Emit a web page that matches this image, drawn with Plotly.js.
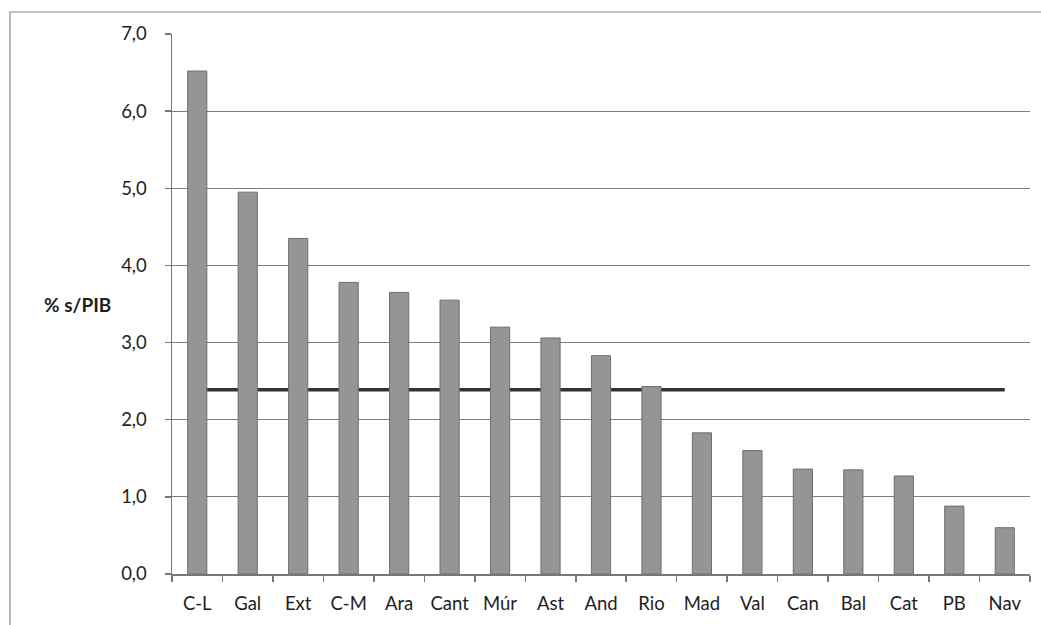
<!DOCTYPE html>
<html>
<head>
<meta charset="utf-8">
<script src="https://cdn.plot.ly/plotly-3.0.1.min.js"></script>
<style>html,body{margin:0;padding:0;background:#fff;}#chart{width:1041px;height:625px;}</style>
</head>
<body>
<div id="chart"></div>
<script>
const categories = ["C-L","Gal","Ext","C-M","Ara","Cant","Múr","Ast","And","Rio","Mad","Val","Can","Bal","Cat","PB","Nav"];
const values = [6.52, 4.95, 4.35, 3.78, 3.65, 3.55, 3.20, 3.06, 2.83, 2.43, 1.83, 1.60, 1.36, 1.35, 1.27, 0.88, 0.60];
const media = 2.39;
const yTicks = [0,1,2,3,4,5,6,7];
const yTitle = "% s/PIB";

const font = "Lato, 'Open Sans', sans-serif";

const traces = [{
  type: "bar",
  x: categories,
  y: values,
  marker: {color: "#959595", line: {color: "#6e6e6e", width: 1}},
  hoverinfo: "x+y"
}];

const layout = {
  width: 1041, height: 625,
  margin: {l: 172, r: 11, t: 34, b: 51},
  paper_bgcolor: "#fff", plot_bgcolor: "#fff",
  showlegend: false,
  bargap: 0.62,
  separators: ",.",
  font: {family: font, color: "#1e1e1e", size: 18},
  xaxis: {
    type: "category",
    showgrid: false,
    showline: true, linecolor: "#777", linewidth: 1.5,
    ticks: "outside", tickson: "boundaries", ticklen: 6, tickcolor: "#777", tickwidth: 1.5,
    tickfont: {family: font, size: 18.5, color: "#1e1e1e"},
    ticklabelstandoff: 12,
    fixedrange: true
  },
  yaxis: {
    range: [0, 7],
    tickvals: yTicks,
    tickformat: ".1f",
    showgrid: true, gridcolor: "#7d7d7d", gridwidth: 1,
    showline: true, linecolor: "#777", linewidth: 1.5,
    ticks: "outside", ticklen: 6, tickcolor: "#777", tickwidth: 1.5,
    tickfont: {family: font, size: 18.5, color: "#1e1e1e"},
    ticklabelstandoff: 14,
    zeroline: false,
    fixedrange: true
  },
  shapes: [
    {type: "line", xref: "x", yref: "y", layer: "between",
     x0: categories[0], x1: categories[categories.length - 1], y0: media, y1: media,
     line: {color: "#333", width: 3.5}},
    {type: "rect", xref: "paper", yref: "paper", layer: "below",
     x0: -162/858, x1: 1.05, y0: 1 + 22/540, y1: -0.2,
     line: {color: "#888", width: 1.2}, fillcolor: "rgba(0,0,0,0)"}
  ],
  annotations: [{
    text: "<b>" + yTitle + "</b>", xref: "paper", yref: "paper",
    x: -95/858, y: (574 - 305) / 540, xanchor: "center", yanchor: "middle",
    showarrow: false, font: {family: font, size: 19, color: "#1e1e1e"}
  }]
};

Plotly.newPlot("chart", traces, layout, {displayModeBar: false, staticPlot: true});
</script>
</body>
</html>
